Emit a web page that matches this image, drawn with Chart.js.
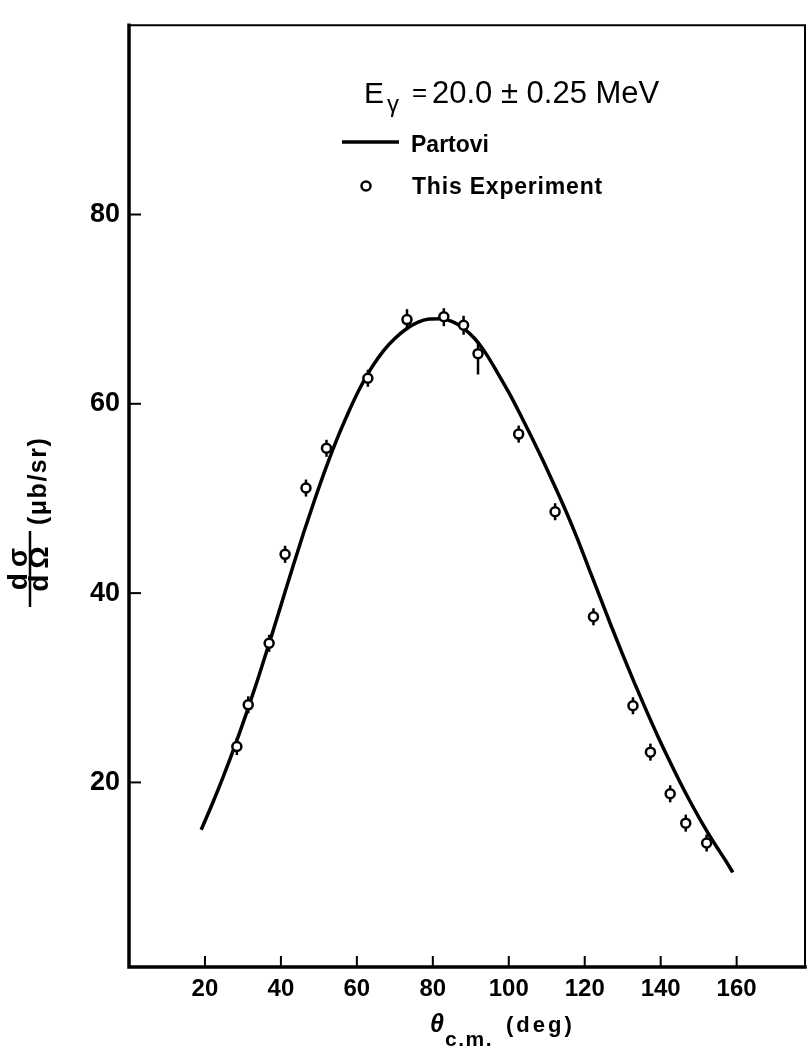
<!doctype html>
<html>
<head>
<meta charset="utf-8">
<style>
  html, body { margin: 0; padding: 0; background: #fff; }
  #wrap { width: 812px; height: 1048px; position: relative; }
</style>
</head>
<body>
<div id="wrap"><canvas id="chart"></canvas></div>
<script src="https://cdn.jsdelivr.net/npm/chart.js@4/dist/chart.umd.min.js"></script>
<script>
  // Partovi calculation, theta c.m. (deg) vs dsigma/dOmega (mub/sr)
  const theoryAngle = [19, 22, 25, 28, 31, 34, 37, 40, 43, 46, 49, 52, 55, 58, 61, 64, 67, 70, 73, 76, 79, 82, 85, 88, 91, 94, 97, 100, 103, 106, 109, 112, 115, 118, 121, 124, 127, 130, 133, 136, 139, 142, 145, 148, 151, 154, 157, 159];
  const theoryXs = [15.0, 17.8, 20.8, 24.0, 27.4, 31.0, 34.8, 38.7, 42.6, 46.4, 50.0, 53.4, 56.5, 59.3, 61.8, 63.9, 65.6, 66.9, 67.9, 68.6, 68.95, 69.0, 68.7, 68.0, 66.9, 65.3, 63.3, 61.2, 58.9, 56.5, 54.0, 51.4, 48.7, 45.8, 42.7, 39.6, 36.5, 33.5, 30.6, 27.8, 25.1, 22.55, 20.1, 17.8, 15.65, 13.65, 11.8, 10.5];

  // this experiment
  const expAngle = [28.4, 31.4, 36.9, 41.1, 46.6, 52.0, 62.9, 73.2, 82.9, 88.1, 91.9, 102.6, 112.2, 122.3, 132.7, 137.3, 142.5, 146.6, 152.1];
  const expXs = [23.8, 28.2, 34.7, 44.1, 51.1, 55.3, 62.7, 68.9, 69.2, 68.3, 65.3, 56.8, 48.6, 37.5, 28.1, 23.2, 18.8, 15.7, 13.6];
  const expErrUp = [0.9, 0.9, 0.9, 0.9, 0.9, 0.9, 0.9, 1.1, 0.9, 1.0, 1.3, 0.9, 0.9, 0.9, 0.9, 0.9, 0.9, 0.9, 0.9];
  const expErrDown = [0.9, 0.9, 0.9, 0.9, 0.9, 0.9, 0.9, 1.1, 1.0, 1.0, 2.2, 0.9, 0.9, 0.9, 0.9, 0.9, 0.9, 0.9, 0.9];

  const xTicks = [20, 40, 60, 80, 100, 120, 140, 160];
  const yTicks = [20, 40, 60, 80];

  const FONT = '"Liberation Sans", Arial, sans-serif';

  // error bars, drawn just before the circles
  const errorBars = {
    id: 'errorBars',
    beforeDatasetDraw(chart, args) {
      if (args.index !== 0) return;
      const ctx = chart.ctx, x = chart.scales.x, y = chart.scales.y;
      ctx.save();
      ctx.strokeStyle = '#000';
      ctx.lineWidth = 2.5;
      expAngle.forEach((a, i) => {
        const px = x.getPixelForValue(a);
        ctx.beginPath();
        ctx.moveTo(px, y.getPixelForValue(expXs[i] + expErrUp[i]));
        ctx.lineTo(px, y.getPixelForValue(expXs[i] - expErrDown[i]));
        ctx.stroke();
      });
      ctx.restore();
    }
  };

  // frame, inward ticks, titles and legend
  const decor = {
    id: 'decor',
    afterDraw(chart) {
      const ctx = chart.ctx, a = chart.chartArea, x = chart.scales.x, y = chart.scales.y;
      ctx.save();
      ctx.strokeStyle = '#000';
      ctx.lineCap = 'square';
      // top & right
      ctx.lineWidth = 2;
      ctx.beginPath();
      ctx.moveTo(a.left, a.top); ctx.lineTo(a.right, a.top); ctx.lineTo(a.right, a.bottom);
      ctx.stroke();
      // left & bottom axes
      ctx.lineWidth = 3.5;
      ctx.beginPath();
      ctx.moveTo(a.left, a.top); ctx.lineTo(a.left, a.bottom); ctx.lineTo(a.right, a.bottom);
      ctx.stroke();
      // inward ticks
      ctx.lineWidth = 2;
      ctx.lineCap = 'butt';
      xTicks.forEach(v => {
        const px = x.getPixelForValue(v);
        ctx.beginPath(); ctx.moveTo(px, a.bottom); ctx.lineTo(px, a.bottom - 11); ctx.stroke();
      });
      yTicks.forEach(v => {
        const py = y.getPixelForValue(v);
        ctx.beginPath(); ctx.moveTo(a.left, py); ctx.lineTo(a.left + 12, py); ctx.stroke();
      });

      ctx.fillStyle = '#000';
      ctx.textAlign = 'left';
      ctx.textBaseline = 'alphabetic';

      // title E_gamma = 20.0 +- 0.25 MeV
      ctx.font = '30px ' + FONT;
      ctx.fillText('E', 364, 103);
      ctx.font = '24px ' + FONT;
      ctx.fillText('γ', 387, 112);
      ctx.font = '26px ' + FONT;
      ctx.fillText('=', 412, 101);
      ctx.font = '31px ' + FONT;
      ctx.fillText('20.0 ± 0.25 MeV', 432, 103);

      // legend
      ctx.lineWidth = 3.5;
      ctx.beginPath(); ctx.moveTo(342, 142); ctx.lineTo(399, 142); ctx.stroke();
      ctx.font = 'bold 23px ' + FONT;
      ctx.fillText('Partovi', 411, 152);
      ctx.lineWidth = 2.5;
      ctx.beginPath(); ctx.arc(366, 186, 4.5, 0, Math.PI * 2); ctx.stroke();
      ctx.letterSpacing = '0.8px';
      ctx.fillText('This Experiment', 412, 194);

      // x title
      ctx.font = 'italic bold 25px ' + FONT;
      ctx.letterSpacing = '0px';
      ctx.fillText('θ', 430, 1032);
      ctx.font = 'bold 21px ' + FONT;
      ctx.letterSpacing = '1.5px';
      ctx.fillText('c.m.', 445, 1046);
      ctx.font = 'bold 22px ' + FONT;
      ctx.letterSpacing = '3px';
      ctx.fillText('(deg)', 506, 1032);

      // y title, rotated (u runs up the page, v runs right)
      ctx.translate(0, 613);
      ctx.rotate(-Math.PI / 2);
      ctx.font = 'bold 28px ' + FONT;
      ctx.letterSpacing = '6px';
      ctx.textAlign = 'center';
      ctx.fillText('dσ', 47, 27);
      ctx.fillText('dΩ', 47, 48);
      ctx.lineWidth = 2.5;
      ctx.beginPath(); ctx.moveTo(6, 30); ctx.lineTo(82, 30); ctx.stroke();
      ctx.textAlign = 'left';
      ctx.font = 'bold 25px ' + FONT;
      ctx.letterSpacing = '1.5px';
      ctx.fillText('(μb/sr)', 88, 46);
      ctx.restore();
    }
  };

  new Chart(document.getElementById('chart'), {
    type: 'scatter',
    data: {
      datasets: [
        {
          label: 'This Experiment',
          data: expAngle.map((a, i) => ({x: a, y: expXs[i]})),
          pointRadius: 4.5,
          pointBorderWidth: 2.5,
          pointBackgroundColor: '#fff',
          pointBorderColor: '#000',
          showLine: false
        },
        {
          label: 'Partovi',
          data: theoryAngle.map((a, i) => ({x: a, y: theoryXs[i]})),
          showLine: true,
          borderColor: '#000',
          borderWidth: 3.5,
          pointRadius: 0,
          cubicInterpolationMode: 'monotone'
        }
      ]
    },
    options: {
      responsive: true,
      maintainAspectRatio: false,
      animation: false,
      layout: {padding: {top: 13, right: 3, left: 0, bottom: 0}},
      plugins: {legend: {display: false}, tooltip: {enabled: false}},
      scales: {
        x: {
          type: 'linear', min: 0, max: 178,
          afterBuildTicks: s => { s.ticks = xTicks.map(v => ({value: v})); },
          afterFit: s => { s.height = 81; },
          grid: {display: false, drawTicks: false},
          border: {display: false},
          ticks: {color: '#000', padding: 8, maxRotation: 0, font: {family: FONT, size: 24, weight: 'bold'}}
        },
        y: {
          type: 'linear', min: 0.5, max: 100,
          afterBuildTicks: s => { s.ticks = yTicks.map(v => ({value: v})); },
          afterFit: s => { s.width = 129; },
          grid: {display: false, drawTicks: false},
          border: {display: false},
          ticks: {color: '#000', padding: 9, font: {family: FONT, size: 27, weight: 'bold'}}
        }
      }
    },
    plugins: [errorBars, decor]
  });
</script>
</body>
</html>
